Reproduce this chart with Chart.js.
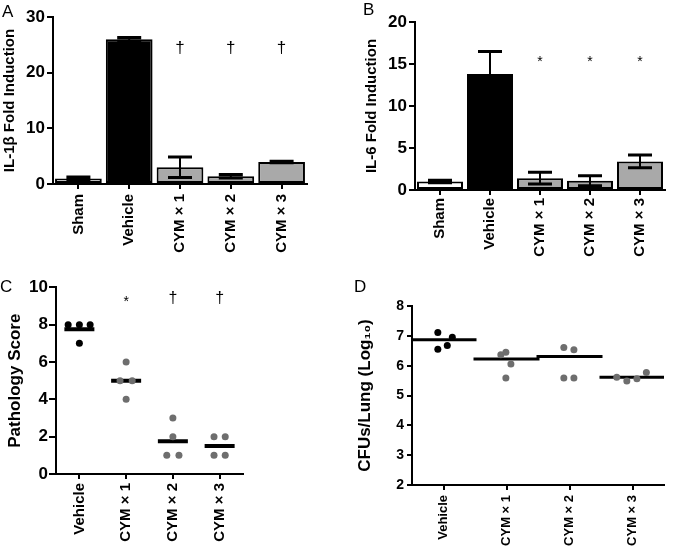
<!DOCTYPE html>
<html>
<head>
<meta charset="utf-8">
<script src="https://cdn.jsdelivr.net/npm/chart.js@4"></script>
<style>
  body { margin: 0; background: #fff; }
  #fig { position: relative; width: 700px; height: 556px; overflow: hidden; }
  #fig canvas { position: absolute; }
  .letter { position: absolute; font: 17px 'Liberation Sans', Arial, sans-serif; line-height: 17px; color: #000; }
</style>
</head>
<body>
<div id="fig">
  <canvas id="chartA" width="350" height="280" style="left:0;top:0"></canvas>
  <canvas id="chartB" width="350" height="280" style="left:350px;top:0"></canvas>
  <canvas id="chartC" width="350" height="291" style="left:0;top:265px"></canvas>
  <canvas id="chartD" width="350" height="286" style="left:350px;top:270px"></canvas>
  <div class="letter" style="left:2px;top:3px">A</div>
  <div class="letter" style="left:363px;top:1px">B</div>
  <div class="letter" style="left:0;top:278px">C</div>
  <div class="letter" style="left:354px;top:278px">D</div>
</div>
<script>
// panels A and B: bar charts with SEM
const barGroups = ['Sham', 'Vehicle', 'CYM × 1', 'CYM × 2', 'CYM × 3'];
const il1bMean = [1.0, 26.0, 3.0, 1.4, 3.95];
const il1bSem = [0.27, 0.3, 1.85, 0.3, 0.15];
const il1bSig = ['', '', '†', '†', '†'];
const il6Mean = [1.0, 13.8, 1.4, 1.1, 3.4];
const il6Sem = [0.15, 2.7, 0.7, 0.6, 0.76];
const il6Sig = ['', '', '*', '*', '*'];

// panels C and D: individual mice + group line
const dotGroups = ['Vehicle', 'CYM × 1', 'CYM × 2', 'CYM × 3'];
const pathScores = [[8, 8, 8, 7], [6, 5, 5, 4], [3, 2, 1, 1], [2, 2, 1, 1]];
const pathSpread = [[-0.24, 0, 0.23, 0], [0, -0.13, 0.13, 0], [0, 0, -0.13, 0.13], [-0.12, 0.12, -0.12, 0.12]];
const pathMean = [7.75, 5, 1.75, 1.5];
const pathSig = ['', '*', '†', '†'];
const cfuLog = [[7.11, 6.95, 6.55, 6.68], [6.37, 6.45, 6.06, 5.59], [6.61, 6.53, 5.59, 5.59], [5.61, 5.49, 5.56, 5.77]];
const cfuSpread = [[-0.09, 0.14, -0.09, 0.06], [-0.09, -0.01, 0.07, -0.01], [-0.09, 0.07, -0.09, 0.07], [-0.25, -0.09, 0.07, 0.22]];
const cfuMean = [6.87, 6.22, 6.31, 5.61];

const FONT = "'Liberation Sans', Arial, sans-serif";
const GRAY_BAR = '#a9a9a9';
const GRAY_DOT = '#6e6e6e';

Chart.defaults.font.family = FONT;
Chart.defaults.color = '#000';
Chart.defaults.animation = false;
Chart.defaults.plugins.legend.display = false;
Chart.defaults.plugins.tooltip.enabled = false;

// error bars on top of the bars
const errorBars = {
  id: 'errorBars',
  afterDatasetsDraw(chart, args, opts) {
    if (!opts.errors) return;
    const { ctx } = chart;
    const y = chart.scales.y;
    const vals = chart.data.datasets[0].data;
    ctx.save();
    ctx.strokeStyle = '#000';
    chart.getDatasetMeta(0).data.forEach((bar, i) => {
      const top = y.getPixelForValue(vals[i] + opts.errors[i]);
      const bot = y.getPixelForValue(vals[i] - opts.errors[i]);
      ctx.lineWidth = 2;
      ctx.beginPath();
      ctx.moveTo(bar.x, top);
      ctx.lineTo(bar.x, bot);
      ctx.stroke();
      ctx.lineWidth = 3;
      ctx.beginPath();
      ctx.moveTo(bar.x - opts.cap, top);
      ctx.lineTo(bar.x + opts.cap, top);
      ctx.moveTo(bar.x - opts.cap, bot);
      ctx.lineTo(bar.x + opts.cap, bot);
      ctx.stroke();
    });
    ctx.restore();
  }
};

// significance symbols above each group
const sigMarks = {
  id: 'sigMarks',
  afterDraw(chart, args, opts) {
    if (!opts.marks) return;
    const { ctx } = chart;
    const { x, y } = chart.scales;
    ctx.save();
    ctx.fillStyle = '#000';
    ctx.textAlign = 'center';
    ctx.textBaseline = 'middle';
    opts.marks.forEach((m, i) => {
      if (!m) return;
      const star = m === '*';
      const size = star ? opts.starSize : opts.daggerSize;
      ctx.font = size + 'px ' + FONT;
      ctx.fillText(m, x.getPixelForValue(i), y.getPixelForValue(opts.level) + (star ? size * 0.25 : 0));
    });
    ctx.restore();
  }
};

function yAxis(o) {
  return {
    min: o.min,
    max: o.max,
    afterFit: s => { s.width = o.width; },
    border: { color: '#000', width: 2 },
    grid: { drawOnChartArea: false, color: '#000', lineWidth: 2, tickLength: o.tick },
    ticks: { stepSize: o.step, padding: o.pad, color: '#000', font: { size: o.size, weight: 'bold' } },
    title: {
      display: true, text: o.title, color: '#000',
      font: { size: o.titleSize, weight: 'bold' },
      padding: { top: o.titlePad, bottom: 0 }
    }
  };
}

function xTicks(o) {
  return {
    minRotation: 90, maxRotation: 90, autoSkip: false,
    padding: o.pad, color: '#000', font: { size: o.size, weight: 'bold' }
  };
}

function barChart(id, means, sems, sig, o) {
  return new Chart(document.getElementById(id), {
    type: 'bar',
    data: {
      labels: barGroups,
      datasets: [{
        data: means,
        backgroundColor: ['#ffffff', '#000000', GRAY_BAR, GRAY_BAR, GRAY_BAR],
        borderColor: '#000',
        borderWidth: 2,
        borderSkipped: false,
        barPercentage: 0.92,
        categoryPercentage: 1
      }]
    },
    options: {
      responsive: false,
      devicePixelRatio: 1,
      layout: { padding: { top: o.top, right: o.right, left: 0, bottom: 0 } },
      scales: {
        x: {
          afterFit: s => { s.height = o.xHeight; },
          border: { color: '#000', width: 2 },
          grid: { drawOnChartArea: false, offset: false, color: '#000', lineWidth: 2, tickLength: 5 },
          ticks: xTicks({ pad: o.xPad, size: 15 })
        },
        y: yAxis(o.y)
      },
      plugins: {
        errorBars: { errors: sems, cap: 12 },
        sigMarks: { marks: sig, level: o.sigLevel, starSize: 14, daggerSize: 17 }
      }
    },
    plugins: [errorBars, sigMarks]
  });
}

function dotChart(id, values, spread, means, sig, o) {
  const datasets = values.map((vals, g) => ({
    data: vals.map((v, k) => ({ x: g + spread[g][k], y: v })),
    pointRadius: o.dot,
    pointBorderWidth: 0,
    pointBackgroundColor: g === 0 ? '#000' : GRAY_DOT
  }));
  datasets.push({
    data: means.map((m, g) => ({ x: g, y: m })),
    pointStyle: 'line',
    pointRadius: o.lineHalf,
    pointBorderWidth: o.lineWidth,
    pointBorderColor: '#000'
  });
  return new Chart(document.getElementById(id), {
    type: 'scatter',
    data: { datasets },
    options: {
      responsive: false,
      devicePixelRatio: 1,
      layout: { padding: { top: o.top, right: o.right, left: 0, bottom: 0 } },
      scales: {
        x: {
          type: 'linear',
          min: -0.5,
          max: dotGroups.length - 0.5,
          afterBuildTicks: s => { s.ticks = dotGroups.map((g, i) => ({ value: i })); },
          afterFit: s => { s.height = o.xHeight; },
          border: { color: '#000', width: 2 },
          grid: { drawOnChartArea: false, color: '#000', lineWidth: 2, tickLength: 5 },
          ticks: Object.assign(xTicks({ pad: o.xPad, size: o.xSize }), { callback: v => dotGroups[v] })
        },
        y: yAxis(o.y)
      },
      plugins: {
        sigMarks: { marks: sig, level: o.sigLevel, starSize: 14, daggerSize: 16 }
      }
    },
    plugins: [sigMarks]
  });
}

barChart('chartA', il1bMean, il1bSem, il1bSig, {
  top: 17, right: 43, xHeight: 96, xPad: 5, sigLevel: 24.4,
  y: { min: 0, max: 30, step: 10, width: 53, tick: 6, pad: 2, size: 17,
       title: 'IL-1β Fold Induction', titleSize: 15, titlePad: 1 }
});

barChart('chartB', il6Mean, il6Sem, il6Sig, {
  top: 22, right: 35, xHeight: 90, xPad: 3, sigLevel: 15.6,
  y: { min: 0, max: 20, step: 5, width: 65, tick: 6, pad: 2, size: 17,
       title: 'IL-6 Fold Induction', titleSize: 15, titlePad: 13 }
});

dotChart('chartC', pathScores, pathSpread, pathMean, pathSig, {
  top: 22.3, right: 107, xHeight: 82, xPad: 4, xSize: 15, sigLevel: 9.4,
  dot: 3.5, lineHalf: 15, lineWidth: 4,
  y: { min: 0, max: 10, step: 2, width: 56, tick: 7, pad: 1, size: 17,
       title: 'Pathology Score', titleSize: 17, titlePad: 5 }
});

dotChart('chartD', cfuLog, cfuSpread, cfuMean, dotGroups.map(() => ''), {
  top: 24, right: 2, xHeight: 71, xPad: 5, xSize: 13, sigLevel: 8,
  dot: 3.5, lineHalf: 33, lineWidth: 3,
  y: { min: 2, max: 8, step: 1, width: 62, tick: 5, pad: 3, size: 14,
       title: 'CFUs/Lung (Log₁₀)', titleSize: 17, titlePad: 5 }
});
</script>
</body>
</html>
